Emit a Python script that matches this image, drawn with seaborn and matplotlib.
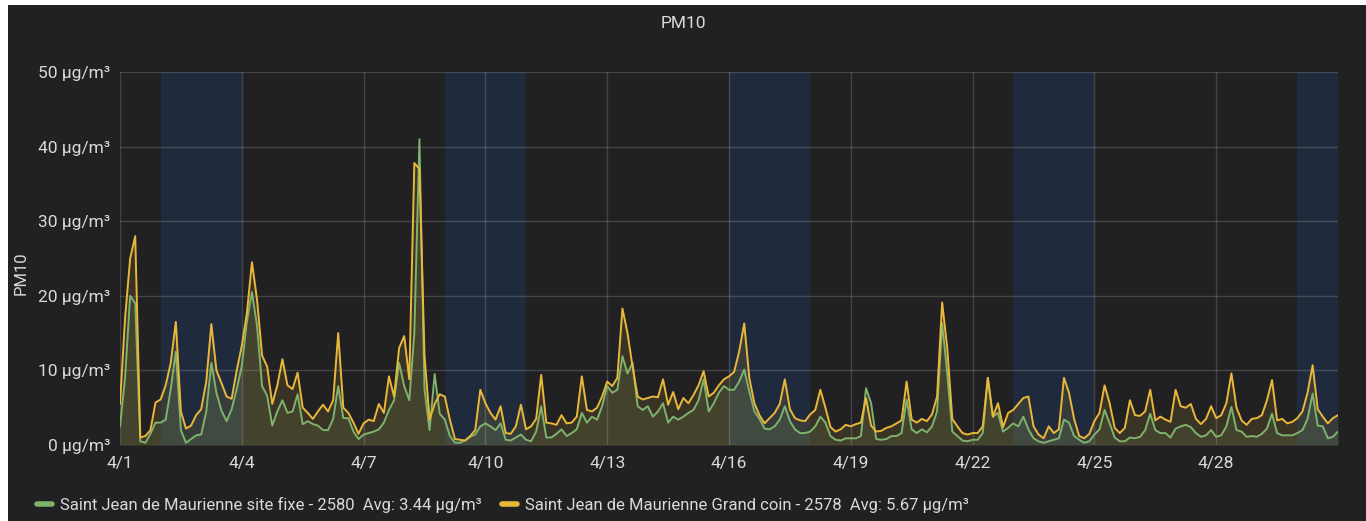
import matplotlib
matplotlib.use('Agg')
import matplotlib.pyplot as plt
from matplotlib.lines import Line2D
from matplotlib.patches import Rectangle
import seaborn as sns
import pandas as pd
import numpy as np

# PM10, 3-hourly readings (µg/m³), 1 April -> 1 May, one row per day
site_fixe = [
    2.5, 9.0, 20.0, 19.0, 0.5, 0.3, 1.5, 3.0,      # 4/1
    3.0, 3.4, 7.5, 12.5, 2.0, 0.3, 0.8, 1.3,       # 4/2
    1.4, 4.5, 11.0, 7.0, 4.6, 3.2, 4.8, 7.5,       # 4/3
    10.6, 16.5, 20.5, 16.0, 7.9, 6.6, 2.6, 4.5,    # 4/4
    6.0, 4.3, 4.5, 6.8, 2.8, 3.2, 2.8, 2.6,        # 4/5
    2.0, 2.0, 3.5, 7.9, 3.6, 3.6, 1.8, 0.8,        # 4/6
    1.4, 1.6, 1.8, 2.1, 3.0, 4.7, 6.0, 11.0,       # 4/7
    7.9, 6.0, 15.0, 41.0, 7.5, 2.0, 9.5, 4.2,      # 4/8
    3.4, 1.2, 0.3, 0.3, 0.6, 1.1, 1.4, 2.5,        # 4/9
    2.9, 2.5, 2.0, 2.9, 0.7, 0.6, 1.0, 1.4,        # 4/10
    0.7, 0.5, 1.8, 5.2, 1.0, 1.0, 1.5, 2.1,        # 4/11
    1.2, 1.6, 2.1, 4.3, 3.0, 3.8, 3.4, 5.2,        # 4/12
    7.9, 7.0, 7.4, 11.9, 9.6, 11.0, 5.2, 4.7,      # 4/13
    5.2, 3.8, 4.5, 5.6, 3.0, 3.8, 3.4, 3.8,        # 4/14
    4.3, 4.7, 6.0, 8.8, 4.5, 5.6, 7.0, 7.9,        # 4/15
    7.4, 7.4, 8.5, 10.1, 7.2, 4.5, 3.5, 2.2,       # 4/16
    2.1, 2.5, 3.4, 5.2, 3.2, 2.1, 1.6, 1.6,        # 4/17
    1.8, 2.5, 3.8, 3.0, 1.2, 0.7, 0.6, 0.9,        # 4/18
    0.9, 0.9, 1.2, 7.6, 5.6, 0.8, 0.7, 0.8,        # 4/19
    1.2, 1.2, 1.6, 6.1, 2.1, 1.6, 2.1, 1.7,        # 4/20
    2.5, 4.5, 16.3, 9.6, 1.8, 1.2, 0.6, 0.5,       # 4/21
    0.7, 0.7, 1.6, 9.0, 3.8, 4.3, 1.8, 2.3,        # 4/22
    2.9, 2.5, 3.8, 2.1, 0.9, 0.5, 0.3, 0.5,        # 4/23
    0.7, 0.9, 3.4, 3.0, 1.2, 0.7, 0.3, 0.5,        # 4/24
    1.4, 2.1, 4.7, 2.9, 1.0, 0.5, 0.5, 1.0,        # 4/25
    0.9, 1.1, 2.0, 4.2, 2.0, 1.6, 1.6, 1.0,        # 4/26
    2.2, 2.5, 2.7, 2.4, 1.6, 1.1, 1.3, 2.0,        # 4/27
    1.1, 1.3, 2.5, 5.1, 2.0, 1.8, 1.1, 1.2,        # 4/28
    1.1, 1.5, 2.2, 4.2, 1.6, 1.3, 1.3, 1.3,        # 4/29
    1.6, 2.0, 3.5, 6.9, 2.6, 2.5, 0.9, 1.1,        # 4/30
    1.8,
]

grand_coin = [
    5.5, 17.0, 25.0, 28.0, 1.0, 1.2, 2.0, 5.7,     # 4/1
    6.1, 8.0, 11.0, 16.5, 4.5, 2.2, 2.6, 4.0,      # 4/2
    4.8, 8.5, 16.2, 10.0, 8.3, 6.5, 6.2, 10.0,     # 4/3
    13.3, 17.7, 24.5, 19.5, 12.0, 10.5, 5.5, 8.0,  # 4/4
    11.5, 8.0, 7.5, 9.7, 5.0, 4.3, 3.5, 4.5,       # 4/5
    5.4, 4.5, 6.0, 15.0, 5.0, 4.3, 3.0, 1.5,       # 4/6
    2.9, 3.4, 3.2, 5.5, 4.3, 9.2, 6.5, 13.0,       # 4/7
    14.6, 8.8, 37.8, 37.0, 12.0, 3.4, 5.5, 6.8,    # 4/8
    6.5, 3.4, 0.8, 0.7, 0.6, 1.2, 2.0, 7.4,        # 4/9
    5.6, 4.3, 3.4, 5.2, 1.6, 1.5, 2.5, 5.4,        # 4/10
    2.1, 2.5, 3.5, 9.4, 3.0, 2.9, 2.7, 4.0,        # 4/11
    2.9, 3.0, 3.8, 9.2, 4.7, 4.5, 5.0, 6.5,        # 4/12
    8.5, 7.9, 9.0, 18.3, 15.0, 10.5, 6.5, 6.1,     # 4/13
    6.3, 6.5, 6.4, 8.8, 5.4, 7.1, 4.8, 6.3,        # 4/14
    5.6, 6.7, 8.0, 9.9, 6.5, 7.0, 8.0, 8.8,        # 4/15
    9.2, 9.8, 12.5, 16.3, 9.0, 5.6, 4.0, 2.9,      # 4/16
    3.6, 4.3, 5.5, 8.8, 4.8, 3.6, 3.3, 3.2,        # 4/17
    4.1, 4.7, 7.4, 5.0, 2.4, 1.8, 2.1, 2.7,        # 4/18
    2.5, 2.8, 3.0, 6.3, 2.6, 1.8, 1.9, 2.3,        # 4/19
    2.5, 2.9, 3.3, 8.5, 3.4, 3.0, 3.5, 3.2,        # 4/20
    4.1, 6.5, 19.1, 13.0, 3.5, 2.5, 1.6, 1.4,      # 4/21
    1.6, 1.6, 2.5, 9.0, 3.8, 5.6, 2.4, 4.3,        # 4/22
    4.7, 5.5, 6.3, 6.5, 2.5, 1.4, 0.9, 2.5,        # 4/23
    1.6, 2.1, 9.0, 7.0, 3.5, 1.2, 0.9, 1.5,        # 4/24
    3.2, 4.3, 8.0, 5.6, 2.3, 1.6, 2.3, 6.0,        # 4/25
    4.0, 3.9, 4.5, 7.4, 3.3, 3.8, 3.4, 3.1,        # 4/26
    7.4, 5.2, 5.0, 5.5, 3.5, 2.8, 3.5, 5.2,        # 4/27
    3.6, 4.0, 5.6, 9.6, 5.0, 3.3, 2.7, 3.5,        # 4/28
    3.6, 4.0, 6.0, 8.7, 3.3, 3.5, 2.9, 3.1,        # 4/29
    3.6, 4.5, 7.0, 10.7, 4.8, 3.8, 2.9, 3.6,       # 4/30
    4.0,
]

series_names = ['Saint Jean de Maurienne site fixe - 2580',
                'Saint Jean de Maurienne Grand coin - 2578']
series_avg = ['3.44', '5.67']
series_colors = ['#7EB26D', '#EAB839']

# week-ends highlighted by the dashboard (start dates, 2 days each)
weekend_starts = ['2022-04-02', '2022-04-09', '2022-04-16', '2022-04-23', '2022-04-30']
tick_days = [1, 4, 7, 10, 13, 16, 19, 22, 25, 28]
y_ticks = [0, 10, 20, 30, 40, 50]

times = pd.date_range('2022-04-01', periods=len(site_fixe), freq='3h')
df = pd.DataFrame({
    'time': np.concatenate([times, times]),
    'value': site_fixe + grand_coin,
    'sensor': [series_names[0]] * len(times) + [series_names[1]] * len(times),
})

BG = '#212124'
TXT = '#d8d9da'

sns.set_theme(style='dark')
plt.rcParams['font.family'] = ['Roboto', 'DejaVu Sans']

fig = plt.figure(figsize=(13.66, 5.21), dpi=100, facecolor='white')
fig.patches.append(Rectangle((8 / 1366, 0), 1, 1 - 5 / 521, transform=fig.transFigure,
                             facecolor=BG, edgecolor='none', zorder=-10))
ax = fig.add_axes([120 / 1366, 1 - 445 / 521, (1338 - 120) / 1366, (445 - 72) / 521])
ax.set_facecolor(BG)

# week-end bands
for s in weekend_starts:
    start = pd.Timestamp(s)
    ax.axvspan(start, start + pd.Timedelta(days=2), color='#1f2b3c', lw=0, zorder=0)

sns.lineplot(data=df, x='time', y='value', hue='sensor', hue_order=series_names,
             palette=dict(zip(series_names, series_colors)), linewidth=1.4,
             legend=False, ax=ax, zorder=3)
for name, color in zip(series_names, series_colors):
    sub = df[df['sensor'] == name]
    ax.fill_between(sub['time'], 0, sub['value'], color=color, alpha=0.12, lw=0, zorder=2)

ax.set_xlim(pd.Timestamp('2022-04-01'), pd.Timestamp('2022-05-01'))
ax.set_ylim(0, 50)
ax.set_yticks(y_ticks)
ax.set_yticklabels([f'{v} µg/m³' for v in y_ticks])
tick_dates = [pd.Timestamp(2022, 4, d) for d in tick_days]
ax.set_xticks(tick_dates)
ax.set_xticklabels([f'4/{d}' for d in tick_days])

ax.grid(True, color='#ffffff', alpha=0.16, linewidth=1)
ax.set_axisbelow(False)
for sp in ax.spines.values():
    sp.set_visible(False)
ax.tick_params(axis='both', length=0, colors=TXT, labelsize=12.5)
ax.tick_params(axis='x', pad=8)
ax.tick_params(axis='y', pad=7)
ax.set_xlabel('')
ax.set_ylabel('PM10', color=TXT, fontsize=12)
ax.yaxis.set_label_coords(-0.075, 0.46)

fig.text(0.5, 1 - 24 / 521, 'PM10', color=TXT, fontsize=12.5, ha='center', va='center')

handles = [Line2D([], [], color=c, lw=4, solid_capstyle='round') for c in series_colors]
labels = [f'{n}  Avg: {a} µg/m³' for n, a in zip(series_names, series_avg)]
fig.legend(handles, labels, ncol=2, frameon=False, loc='center left',
           bbox_to_anchor=(22 / 1366, 1 - 505 / 521), handlelength=0.9,
           handletextpad=0.5, columnspacing=1.2, fontsize=12, labelcolor=TXT)

fig.savefig('out.png', dpi=100, facecolor='white')
